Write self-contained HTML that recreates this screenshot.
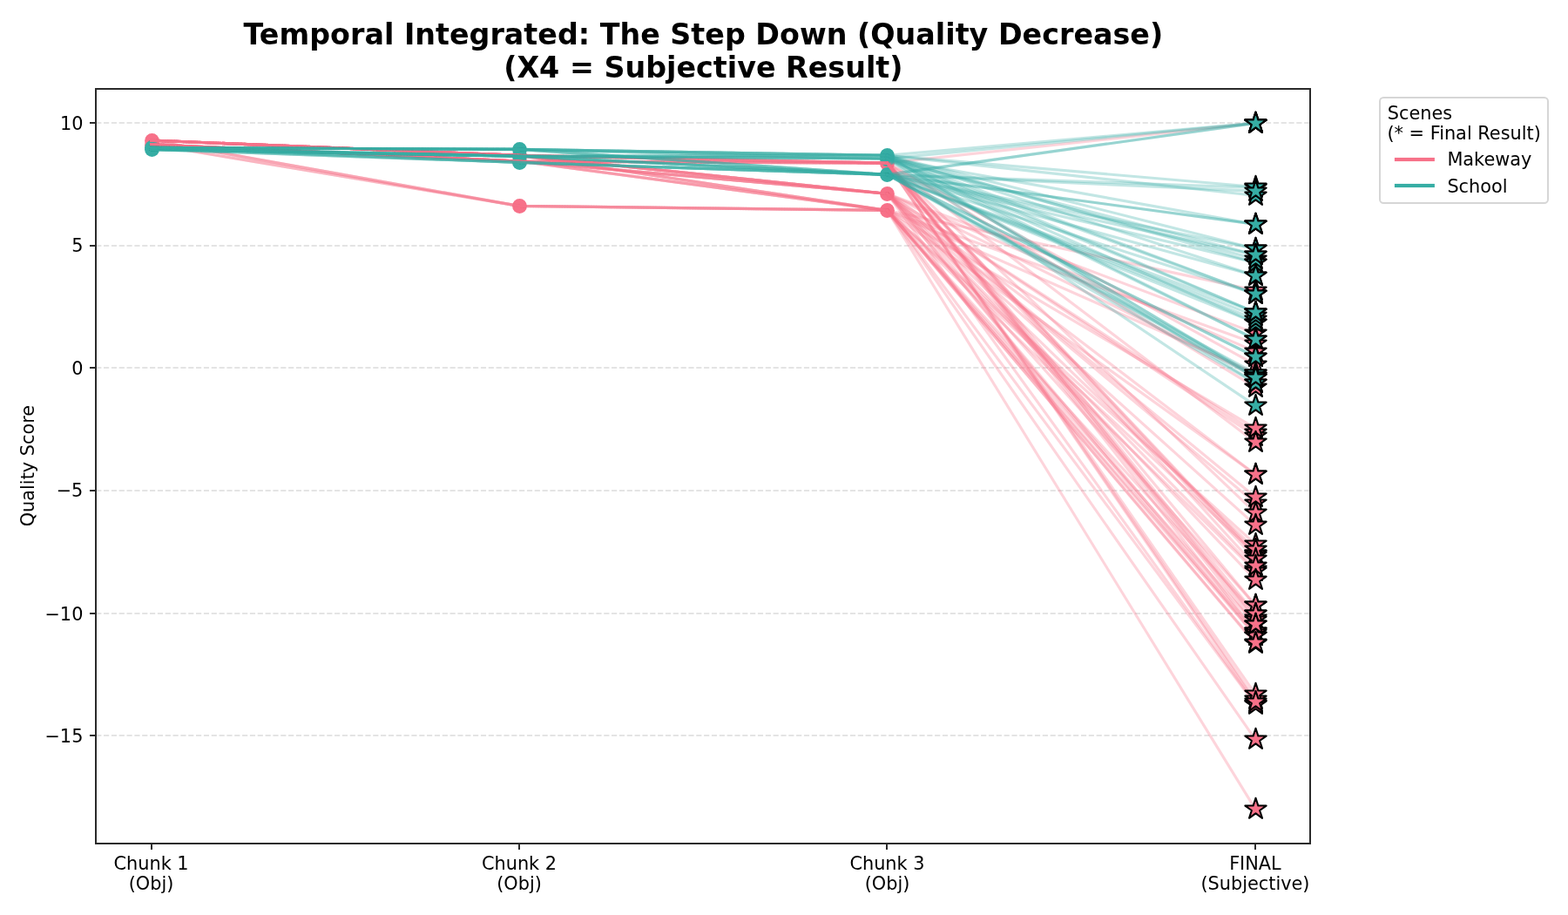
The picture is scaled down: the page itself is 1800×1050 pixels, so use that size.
<!DOCTYPE html>
<html lang="en"><head><meta charset="utf-8"><title>Temporal Integrated: The Step Down (Quality Decrease)</title>
<style>html,body{margin:0;padding:0;background:#fff;}body{width:1800px;height:1050px;overflow:hidden;}svg{display:block;}text{font-family:"DejaVu Sans","Liberation Sans",sans-serif;fill:#000;}.t10{font-size:20.833px;}.ttl{font-size:33.333px;font-weight:bold;}</style></head><body>
<svg width="1800" height="1050" viewBox="0 0 1800 1050">
<rect x="0" y="0" width="1800" height="1050" fill="#ffffff"/>
<g stroke="#e4e4e4" stroke-width="2" stroke-dasharray="6.167 2.667" fill="none">
<line x1="110.20" y1="141" x2="1504.30" y2="141"/>
<line x1="110.20" y1="282" x2="1504.30" y2="282"/>
<line x1="110.20" y1="422" x2="1504.30" y2="422"/>
<line x1="110.20" y1="563" x2="1504.30" y2="563"/>
<line x1="110.20" y1="704" x2="1504.30" y2="704"/>
<line x1="110.20" y1="844" x2="1504.30" y2="844"/>
</g>
<g fill="#f77189">
<circle cx="174.5" cy="166.5" r="8.40"/>
<circle cx="596.5" cy="185.5" r="8.40"/>
<circle cx="1018.5" cy="187.5" r="8.40"/>
<circle cx="596.5" cy="236.5" r="8.40"/>
<circle cx="1018.5" cy="241.5" r="8.40"/>
<circle cx="1018.5" cy="222.5" r="8.40"/>
<circle cx="174.5" cy="161.5" r="8.40"/>
<circle cx="596.5" cy="178.5" r="8.40"/>
</g>
<g fill="#36ada4">
<circle cx="174.5" cy="171.5" r="8.40"/>
<circle cx="596.5" cy="186.5" r="8.40"/>
<circle cx="1018.5" cy="200.5" r="8.40"/>
<circle cx="596.5" cy="179.5" r="8.40"/>
<circle cx="1018.5" cy="178.5" r="8.40"/>
<circle cx="174.5" cy="169.5" r="8.40"/>
<circle cx="596.5" cy="171.5" r="8.40"/>
<circle cx="1018.5" cy="182.5" r="8.40"/>
</g>
<g stroke="#f77189" stroke-width="3.125" fill="none" stroke-linecap="square" stroke-linejoin="round">
<polyline stroke-opacity="0.22" points="173.57,165.70 596.02,185.00 1018.48,187.10"/>
<line stroke-opacity="0.30" x1="1018.48" y1="187.10" x2="1440.93" y2="141.30"/>
<polyline stroke-opacity="0.22" points="173.57,165.70 596.02,236.40 1018.48,241.40"/>
<line stroke-opacity="0.30" x1="1018.48" y1="241.40" x2="1440.93" y2="333.30"/>
<polyline stroke-opacity="0.22" points="173.57,165.70 596.02,185.00 1018.48,222.30"/>
<line stroke-opacity="0.30" x1="1018.48" y1="222.30" x2="1440.93" y2="382.30"/>
<polyline stroke-opacity="0.22" points="173.57,161.10 596.02,236.40 1018.48,241.40"/>
<line stroke-opacity="0.30" x1="1018.48" y1="241.40" x2="1440.93" y2="394.30"/>
<polyline stroke-opacity="0.22" points="173.57,161.10 596.02,178.40 1018.48,222.30"/>
<line stroke-opacity="0.30" x1="1018.48" y1="222.30" x2="1440.93" y2="403.30"/>
<polyline stroke-opacity="0.22" points="173.57,165.70 596.02,185.00 1018.48,187.10"/>
<line stroke-opacity="0.30" x1="1018.48" y1="187.10" x2="1440.93" y2="418.30"/>
<polyline stroke-opacity="0.22" points="173.57,165.70 596.02,236.40 1018.48,241.40"/>
<line stroke-opacity="0.30" x1="1018.48" y1="241.40" x2="1440.93" y2="428.30"/>
<polyline stroke-opacity="0.22" points="173.57,161.10 596.02,178.40 1018.48,222.30"/>
<line stroke-opacity="0.30" x1="1018.48" y1="222.30" x2="1440.93" y2="431.30"/>
<polyline stroke-opacity="0.22" points="173.57,165.70 596.02,185.00 1018.48,187.10"/>
<line stroke-opacity="0.30" x1="1018.48" y1="187.10" x2="1440.93" y2="444.30"/>
<polyline stroke-opacity="0.22" points="173.57,165.70 596.02,185.00 1018.48,222.30"/>
<line stroke-opacity="0.30" x1="1018.48" y1="222.30" x2="1440.93" y2="496.30"/>
<polyline stroke-opacity="0.22" points="173.57,165.70 596.02,185.00 1018.48,222.30"/>
<line stroke-opacity="0.30" x1="1018.48" y1="222.30" x2="1440.93" y2="500.30"/>
<polyline stroke-opacity="0.22" points="173.57,165.70 596.02,185.00 1018.48,241.40"/>
<line stroke-opacity="0.30" x1="1018.48" y1="241.40" x2="1440.93" y2="491.30"/>
<polyline stroke-opacity="0.22" points="173.57,165.70 596.02,185.00 1018.48,187.10"/>
<line stroke-opacity="0.30" x1="1018.48" y1="187.10" x2="1440.93" y2="507.30"/>
<polyline stroke-opacity="0.22" points="173.57,161.10 596.02,178.40 1018.48,222.30"/>
<line stroke-opacity="0.30" x1="1018.48" y1="222.30" x2="1440.93" y2="544.30"/>
<polyline stroke-opacity="0.22" points="173.57,161.10 596.02,236.40 1018.48,241.40"/>
<line stroke-opacity="0.30" x1="1018.48" y1="241.40" x2="1440.93" y2="544.30"/>
<polyline stroke-opacity="0.22" points="173.57,161.10 596.02,178.40 1018.48,222.30"/>
<line stroke-opacity="0.30" x1="1018.48" y1="222.30" x2="1440.93" y2="577.30"/>
<polyline stroke-opacity="0.22" points="173.57,161.10 596.02,178.40 1018.48,222.30"/>
<line stroke-opacity="0.30" x1="1018.48" y1="222.30" x2="1440.93" y2="570.30"/>
<polyline stroke-opacity="0.22" points="173.57,161.10 596.02,178.40 1018.48,187.10"/>
<line stroke-opacity="0.30" x1="1018.48" y1="187.10" x2="1440.93" y2="588.30"/>
<polyline stroke-opacity="0.22" points="173.57,165.70 596.02,185.00 1018.48,222.30"/>
<line stroke-opacity="0.30" x1="1018.48" y1="222.30" x2="1440.93" y2="602.30"/>
<polyline stroke-opacity="0.22" points="173.57,161.10 596.02,178.40 1018.48,187.10"/>
<line stroke-opacity="0.30" x1="1018.48" y1="187.10" x2="1440.93" y2="635.30"/>
<polyline stroke-opacity="0.22" points="173.57,165.70 596.02,185.00 1018.48,241.40"/>
<line stroke-opacity="0.30" x1="1018.48" y1="241.40" x2="1440.93" y2="635.30"/>
<polyline stroke-opacity="0.22" points="173.57,165.70 596.02,185.00 1018.48,187.10"/>
<line stroke-opacity="0.30" x1="1018.48" y1="187.10" x2="1440.93" y2="637.30"/>
<polyline stroke-opacity="0.22" points="173.57,161.10 596.02,178.40 1018.48,241.40"/>
<line stroke-opacity="0.30" x1="1018.48" y1="241.40" x2="1440.93" y2="624.30"/>
<polyline stroke-opacity="0.22" points="173.57,165.70 596.02,185.00 1018.48,222.30"/>
<line stroke-opacity="0.30" x1="1018.48" y1="222.30" x2="1440.93" y2="630.30"/>
<polyline stroke-opacity="0.22" points="173.57,161.10 596.02,178.40 1018.48,187.10"/>
<line stroke-opacity="0.30" x1="1018.48" y1="187.10" x2="1440.93" y2="641.30"/>
<polyline stroke-opacity="0.22" points="173.57,165.70 596.02,185.00 1018.48,222.30"/>
<line stroke-opacity="0.30" x1="1018.48" y1="222.30" x2="1440.93" y2="653.30"/>
<polyline stroke-opacity="0.22" points="173.57,161.10 596.02,236.40 1018.48,241.40"/>
<line stroke-opacity="0.30" x1="1018.48" y1="241.40" x2="1440.93" y2="655.30"/>
<polyline stroke-opacity="0.22" points="173.57,161.10 596.02,178.40 1018.48,187.10"/>
<line stroke-opacity="0.30" x1="1018.48" y1="187.10" x2="1440.93" y2="649.30"/>
<polyline stroke-opacity="0.22" points="173.57,161.10 596.02,178.40 1018.48,222.30"/>
<line stroke-opacity="0.30" x1="1018.48" y1="222.30" x2="1440.93" y2="665.30"/>
<polyline stroke-opacity="0.22" points="173.57,165.70 596.02,185.00 1018.48,187.10"/>
<line stroke-opacity="0.30" x1="1018.48" y1="187.10" x2="1440.93" y2="709.30"/>
<polyline stroke-opacity="0.22" points="173.57,161.10 596.02,178.40 1018.48,187.10"/>
<line stroke-opacity="0.30" x1="1018.48" y1="187.10" x2="1440.93" y2="711.30"/>
<polyline stroke-opacity="0.22" points="173.57,161.10 596.02,178.40 1018.48,187.10"/>
<line stroke-opacity="0.30" x1="1018.48" y1="187.10" x2="1440.93" y2="694.30"/>
<polyline stroke-opacity="0.22" points="173.57,165.70 596.02,185.00 1018.48,222.30"/>
<line stroke-opacity="0.30" x1="1018.48" y1="222.30" x2="1440.93" y2="694.30"/>
<polyline stroke-opacity="0.22" points="173.57,161.10 596.02,178.40 1018.48,187.10"/>
<line stroke-opacity="0.30" x1="1018.48" y1="187.10" x2="1440.93" y2="704.30"/>
<polyline stroke-opacity="0.22" points="173.57,161.10 596.02,178.40 1018.48,241.40"/>
<line stroke-opacity="0.30" x1="1018.48" y1="241.40" x2="1440.93" y2="704.30"/>
<polyline stroke-opacity="0.22" points="173.57,165.70 596.02,185.00 1018.48,187.10"/>
<line stroke-opacity="0.30" x1="1018.48" y1="187.10" x2="1440.93" y2="724.30"/>
<polyline stroke-opacity="0.22" points="173.57,161.10 596.02,178.40 1018.48,222.30"/>
<line stroke-opacity="0.30" x1="1018.48" y1="222.30" x2="1440.93" y2="724.30"/>
<polyline stroke-opacity="0.22" points="173.57,161.10 596.02,178.40 1018.48,241.40"/>
<line stroke-opacity="0.30" x1="1018.48" y1="241.40" x2="1440.93" y2="726.30"/>
<polyline stroke-opacity="0.22" points="173.57,161.10 596.02,178.40 1018.48,222.30"/>
<line stroke-opacity="0.30" x1="1018.48" y1="222.30" x2="1440.93" y2="729.30"/>
<polyline stroke-opacity="0.22" points="173.57,165.70 596.02,185.00 1018.48,241.40"/>
<line stroke-opacity="0.30" x1="1018.48" y1="241.40" x2="1440.93" y2="729.30"/>
<polyline stroke-opacity="0.22" points="173.57,161.10 596.02,178.40 1018.48,187.10"/>
<line stroke-opacity="0.30" x1="1018.48" y1="187.10" x2="1440.93" y2="716.30"/>
<polyline stroke-opacity="0.22" points="173.57,165.70 596.02,185.00 1018.48,241.40"/>
<line stroke-opacity="0.30" x1="1018.48" y1="241.40" x2="1440.93" y2="716.30"/>
<polyline stroke-opacity="0.22" points="173.57,165.70 596.02,236.40 1018.48,241.40"/>
<line stroke-opacity="0.30" x1="1018.48" y1="241.40" x2="1440.93" y2="738.30"/>
<polyline stroke-opacity="0.22" points="173.57,161.10 596.02,236.40 1018.48,241.40"/>
<line stroke-opacity="0.30" x1="1018.48" y1="241.40" x2="1440.93" y2="737.30"/>
<polyline stroke-opacity="0.22" points="173.57,161.10 596.02,178.40 1018.48,187.10"/>
<line stroke-opacity="0.30" x1="1018.48" y1="187.10" x2="1440.93" y2="802.30"/>
<polyline stroke-opacity="0.22" points="173.57,161.10 596.02,178.40 1018.48,222.30"/>
<line stroke-opacity="0.30" x1="1018.48" y1="222.30" x2="1440.93" y2="807.30"/>
<polyline stroke-opacity="0.22" points="173.57,161.10 596.02,178.40 1018.48,241.40"/>
<line stroke-opacity="0.30" x1="1018.48" y1="241.40" x2="1440.93" y2="808.30"/>
<polyline stroke-opacity="0.22" points="173.57,165.70 596.02,185.00 1018.48,187.10"/>
<line stroke-opacity="0.30" x1="1018.48" y1="187.10" x2="1440.93" y2="796.30"/>
<polyline stroke-opacity="0.22" points="173.57,161.10 596.02,178.40 1018.48,187.10"/>
<line stroke-opacity="0.30" x1="1018.48" y1="187.10" x2="1440.93" y2="805.30"/>
<polyline stroke-opacity="0.22" points="173.57,161.10 596.02,178.40 1018.48,241.40"/>
<line stroke-opacity="0.30" x1="1018.48" y1="241.40" x2="1440.93" y2="848.30"/>
<polyline stroke-opacity="0.22" points="173.57,165.70 596.02,185.00 1018.48,241.40"/>
<line stroke-opacity="0.30" x1="1018.48" y1="241.40" x2="1440.93" y2="928.30"/>
</g>
<g stroke="#36ada4" stroke-width="3.125" fill="none" stroke-linecap="square" stroke-linejoin="round">
<polyline stroke-opacity="0.22" points="173.57,171.40 596.02,186.40 1018.48,200.40"/>
<line stroke-opacity="0.30" x1="1018.48" y1="200.40" x2="1440.93" y2="215.30"/>
<polyline stroke-opacity="0.22" points="173.57,171.40 596.02,179.20 1018.48,178.30"/>
<line stroke-opacity="0.30" x1="1018.48" y1="178.30" x2="1440.93" y2="301.30"/>
<polyline stroke-opacity="0.22" points="173.57,169.40 596.02,171.40 1018.48,200.40"/>
<line stroke-opacity="0.30" x1="1018.48" y1="200.40" x2="1440.93" y2="301.30"/>
<polyline stroke-opacity="0.22" points="173.57,169.40 596.02,171.40 1018.48,178.30"/>
<line stroke-opacity="0.30" x1="1018.48" y1="178.30" x2="1440.93" y2="214.30"/>
<polyline stroke-opacity="0.22" points="173.57,169.40 596.02,171.40 1018.48,182.00"/>
<line stroke-opacity="0.30" x1="1018.48" y1="182.00" x2="1440.93" y2="297.30"/>
<polyline stroke-opacity="0.22" points="173.57,169.40 596.02,171.40 1018.48,178.30"/>
<line stroke-opacity="0.30" x1="1018.48" y1="178.30" x2="1440.93" y2="224.30"/>
<polyline stroke-opacity="0.22" points="173.57,169.40 596.02,171.40 1018.48,178.30"/>
<line stroke-opacity="0.30" x1="1018.48" y1="178.30" x2="1440.93" y2="285.30"/>
<polyline stroke-opacity="0.22" points="173.57,171.40 596.02,186.40 1018.48,200.40"/>
<line stroke-opacity="0.30" x1="1018.48" y1="200.40" x2="1440.93" y2="285.30"/>
<polyline stroke-opacity="0.22" points="173.57,169.40 596.02,186.40 1018.48,200.40"/>
<line stroke-opacity="0.30" x1="1018.48" y1="200.40" x2="1440.93" y2="219.30"/>
<polyline stroke-opacity="0.22" points="173.57,171.40 596.02,179.20 1018.48,182.00"/>
<line stroke-opacity="0.30" x1="1018.48" y1="182.00" x2="1440.93" y2="370.30"/>
<polyline stroke-opacity="0.22" points="173.57,169.40 596.02,171.40 1018.48,200.40"/>
<line stroke-opacity="0.30" x1="1018.48" y1="200.40" x2="1440.93" y2="370.30"/>
<polyline stroke-opacity="0.22" points="173.57,171.40 596.02,179.20 1018.48,178.30"/>
<line stroke-opacity="0.30" x1="1018.48" y1="178.30" x2="1440.93" y2="141.30"/>
<polyline stroke-opacity="0.22" points="173.57,169.40 596.02,179.20 1018.48,182.00"/>
<line stroke-opacity="0.30" x1="1018.48" y1="182.00" x2="1440.93" y2="141.30"/>
<polyline stroke-opacity="0.22" points="173.57,169.40 596.02,186.40 1018.48,200.40"/>
<line stroke-opacity="0.30" x1="1018.48" y1="200.40" x2="1440.93" y2="141.30"/>
<polyline stroke-opacity="0.22" points="173.57,171.40 596.02,179.20 1018.48,200.40"/>
<line stroke-opacity="0.30" x1="1018.48" y1="200.40" x2="1440.93" y2="141.30"/>
<polyline stroke-opacity="0.22" points="173.57,171.40 596.02,179.20 1018.48,182.00"/>
<line stroke-opacity="0.30" x1="1018.48" y1="182.00" x2="1440.93" y2="257.30"/>
<polyline stroke-opacity="0.22" points="173.57,169.40 596.02,171.40 1018.48,200.40"/>
<line stroke-opacity="0.30" x1="1018.48" y1="200.40" x2="1440.93" y2="257.30"/>
<polyline stroke-opacity="0.22" points="173.57,169.40 596.02,179.20 1018.48,200.40"/>
<line stroke-opacity="0.30" x1="1018.48" y1="200.40" x2="1440.93" y2="257.30"/>
<polyline stroke-opacity="0.22" points="173.57,169.40 596.02,171.40 1018.48,200.40"/>
<line stroke-opacity="0.30" x1="1018.48" y1="200.40" x2="1440.93" y2="366.30"/>
<polyline stroke-opacity="0.22" points="173.57,171.40 596.02,179.20 1018.48,200.40"/>
<line stroke-opacity="0.30" x1="1018.48" y1="200.40" x2="1440.93" y2="428.30"/>
<polyline stroke-opacity="0.22" points="173.57,169.40 596.02,171.40 1018.48,182.00"/>
<line stroke-opacity="0.30" x1="1018.48" y1="182.00" x2="1440.93" y2="292.30"/>
<polyline stroke-opacity="0.22" points="173.57,171.40 596.02,179.20 1018.48,200.40"/>
<line stroke-opacity="0.30" x1="1018.48" y1="200.40" x2="1440.93" y2="292.30"/>
<polyline stroke-opacity="0.22" points="173.57,171.40 596.02,179.20 1018.48,200.40"/>
<line stroke-opacity="0.30" x1="1018.48" y1="200.40" x2="1440.93" y2="362.30"/>
<polyline stroke-opacity="0.22" points="173.57,171.40 596.02,179.20 1018.48,182.00"/>
<line stroke-opacity="0.30" x1="1018.48" y1="182.00" x2="1440.93" y2="431.30"/>
<polyline stroke-opacity="0.22" points="173.57,169.40 596.02,186.40 1018.48,200.40"/>
<line stroke-opacity="0.30" x1="1018.48" y1="200.40" x2="1440.93" y2="431.30"/>
<polyline stroke-opacity="0.22" points="173.57,169.40 596.02,171.40 1018.48,178.30"/>
<line stroke-opacity="0.30" x1="1018.48" y1="178.30" x2="1440.93" y2="316.30"/>
<polyline stroke-opacity="0.22" points="173.57,169.40 596.02,179.20 1018.48,200.40"/>
<line stroke-opacity="0.30" x1="1018.48" y1="200.40" x2="1440.93" y2="316.30"/>
<polyline stroke-opacity="0.22" points="173.57,171.40 596.02,179.20 1018.48,178.30"/>
<line stroke-opacity="0.30" x1="1018.48" y1="178.30" x2="1440.93" y2="439.30"/>
<polyline stroke-opacity="0.22" points="173.57,171.40 596.02,186.40 1018.48,200.40"/>
<line stroke-opacity="0.30" x1="1018.48" y1="200.40" x2="1440.93" y2="439.30"/>
<polyline stroke-opacity="0.22" points="173.57,171.40 596.02,179.20 1018.48,182.00"/>
<line stroke-opacity="0.30" x1="1018.48" y1="182.00" x2="1440.93" y2="337.30"/>
<polyline stroke-opacity="0.22" points="173.57,169.40 596.02,171.40 1018.48,178.30"/>
<line stroke-opacity="0.30" x1="1018.48" y1="178.30" x2="1440.93" y2="337.30"/>
<polyline stroke-opacity="0.22" points="173.57,169.40 596.02,171.40 1018.48,200.40"/>
<line stroke-opacity="0.30" x1="1018.48" y1="200.40" x2="1440.93" y2="337.30"/>
<polyline stroke-opacity="0.22" points="173.57,169.40 596.02,171.40 1018.48,178.30"/>
<line stroke-opacity="0.30" x1="1018.48" y1="178.30" x2="1440.93" y2="358.30"/>
<polyline stroke-opacity="0.22" points="173.57,169.40 596.02,179.20 1018.48,182.00"/>
<line stroke-opacity="0.30" x1="1018.48" y1="182.00" x2="1440.93" y2="358.30"/>
<polyline stroke-opacity="0.22" points="173.57,169.40 596.02,186.40 1018.48,200.40"/>
<line stroke-opacity="0.30" x1="1018.48" y1="200.40" x2="1440.93" y2="358.30"/>
<polyline stroke-opacity="0.22" points="173.57,171.40 596.02,179.20 1018.48,178.30"/>
<line stroke-opacity="0.30" x1="1018.48" y1="178.30" x2="1440.93" y2="389.30"/>
<polyline stroke-opacity="0.22" points="173.57,171.40 596.02,179.20 1018.48,182.00"/>
<line stroke-opacity="0.30" x1="1018.48" y1="182.00" x2="1440.93" y2="389.30"/>
<polyline stroke-opacity="0.22" points="173.57,169.40 596.02,179.20 1018.48,200.40"/>
<line stroke-opacity="0.30" x1="1018.48" y1="200.40" x2="1440.93" y2="409.30"/>
<polyline stroke-opacity="0.22" points="173.57,171.40 596.02,186.40 1018.48,200.40"/>
<line stroke-opacity="0.30" x1="1018.48" y1="200.40" x2="1440.93" y2="409.30"/>
<polyline stroke-opacity="0.22" points="173.57,169.40 596.02,171.40 1018.48,178.30"/>
<line stroke-opacity="0.30" x1="1018.48" y1="178.30" x2="1440.93" y2="433.30"/>
<polyline stroke-opacity="0.22" points="173.57,169.40 596.02,179.20 1018.48,200.40"/>
<line stroke-opacity="0.30" x1="1018.48" y1="200.40" x2="1440.93" y2="433.30"/>
<polyline stroke-opacity="0.22" points="173.57,169.40 596.02,171.40 1018.48,182.00"/>
<line stroke-opacity="0.30" x1="1018.48" y1="182.00" x2="1440.93" y2="465.30"/>
</g>
<g fill="#f77189" stroke="#000" stroke-width="2.08" stroke-linejoin="round">
<polygon points="1441.50,128.74 1438.64,137.56 1429.36,137.56 1436.86,143.01 1434.00,151.82 1441.50,146.37 1449.00,151.82 1446.14,143.01 1453.64,137.56 1444.36,137.56"/>
<polygon points="1441.50,320.74 1438.64,329.56 1429.36,329.56 1436.86,335.01 1434.00,343.82 1441.50,338.37 1449.00,343.82 1446.14,335.01 1453.64,329.56 1444.36,329.56"/>
<polygon points="1441.50,369.74 1438.64,378.56 1429.36,378.56 1436.86,384.01 1434.00,392.82 1441.50,387.37 1449.00,392.82 1446.14,384.01 1453.64,378.56 1444.36,378.56"/>
<polygon points="1441.50,381.74 1438.64,390.56 1429.36,390.56 1436.86,396.01 1434.00,404.82 1441.50,399.37 1449.00,404.82 1446.14,396.01 1453.64,390.56 1444.36,390.56"/>
<polygon points="1441.50,390.74 1438.64,399.56 1429.36,399.56 1436.86,405.01 1434.00,413.82 1441.50,408.37 1449.00,413.82 1446.14,405.01 1453.64,399.56 1444.36,399.56"/>
<polygon points="1441.50,405.74 1438.64,414.56 1429.36,414.56 1436.86,420.01 1434.00,428.82 1441.50,423.37 1449.00,428.82 1446.14,420.01 1453.64,414.56 1444.36,414.56"/>
<polygon points="1441.50,415.74 1438.64,424.56 1429.36,424.56 1436.86,430.01 1434.00,438.82 1441.50,433.37 1449.00,438.82 1446.14,430.01 1453.64,424.56 1444.36,424.56"/>
<polygon points="1441.50,418.74 1438.64,427.56 1429.36,427.56 1436.86,433.01 1434.00,441.82 1441.50,436.37 1449.00,441.82 1446.14,433.01 1453.64,427.56 1444.36,427.56"/>
<polygon points="1441.50,431.74 1438.64,440.56 1429.36,440.56 1436.86,446.01 1434.00,454.82 1441.50,449.37 1449.00,454.82 1446.14,446.01 1453.64,440.56 1444.36,440.56"/>
<polygon points="1441.50,483.74 1438.64,492.56 1429.36,492.56 1436.86,498.01 1434.00,506.82 1441.50,501.37 1449.00,506.82 1446.14,498.01 1453.64,492.56 1444.36,492.56"/>
<polygon points="1441.50,487.74 1438.64,496.56 1429.36,496.56 1436.86,502.01 1434.00,510.82 1441.50,505.37 1449.00,510.82 1446.14,502.01 1453.64,496.56 1444.36,496.56"/>
<polygon points="1441.50,478.74 1438.64,487.56 1429.36,487.56 1436.86,493.01 1434.00,501.82 1441.50,496.37 1449.00,501.82 1446.14,493.01 1453.64,487.56 1444.36,487.56"/>
<polygon points="1441.50,494.74 1438.64,503.56 1429.36,503.56 1436.86,509.01 1434.00,517.82 1441.50,512.37 1449.00,517.82 1446.14,509.01 1453.64,503.56 1444.36,503.56"/>
<polygon points="1441.50,531.74 1438.64,540.56 1429.36,540.56 1436.86,546.01 1434.00,554.82 1441.50,549.37 1449.00,554.82 1446.14,546.01 1453.64,540.56 1444.36,540.56"/>
<polygon points="1441.50,531.74 1438.64,540.56 1429.36,540.56 1436.86,546.01 1434.00,554.82 1441.50,549.37 1449.00,554.82 1446.14,546.01 1453.64,540.56 1444.36,540.56"/>
<polygon points="1441.50,564.74 1438.64,573.56 1429.36,573.56 1436.86,579.01 1434.00,587.82 1441.50,582.37 1449.00,587.82 1446.14,579.01 1453.64,573.56 1444.36,573.56"/>
<polygon points="1441.50,557.74 1438.64,566.56 1429.36,566.56 1436.86,572.01 1434.00,580.82 1441.50,575.37 1449.00,580.82 1446.14,572.01 1453.64,566.56 1444.36,566.56"/>
<polygon points="1441.50,575.74 1438.64,584.56 1429.36,584.56 1436.86,590.01 1434.00,598.82 1441.50,593.37 1449.00,598.82 1446.14,590.01 1453.64,584.56 1444.36,584.56"/>
<polygon points="1441.50,589.74 1438.64,598.56 1429.36,598.56 1436.86,604.01 1434.00,612.82 1441.50,607.37 1449.00,612.82 1446.14,604.01 1453.64,598.56 1444.36,598.56"/>
<polygon points="1441.50,622.74 1438.64,631.56 1429.36,631.56 1436.86,637.01 1434.00,645.82 1441.50,640.37 1449.00,645.82 1446.14,637.01 1453.64,631.56 1444.36,631.56"/>
<polygon points="1441.50,622.74 1438.64,631.56 1429.36,631.56 1436.86,637.01 1434.00,645.82 1441.50,640.37 1449.00,645.82 1446.14,637.01 1453.64,631.56 1444.36,631.56"/>
<polygon points="1441.50,624.74 1438.64,633.56 1429.36,633.56 1436.86,639.01 1434.00,647.82 1441.50,642.37 1449.00,647.82 1446.14,639.01 1453.64,633.56 1444.36,633.56"/>
<polygon points="1441.50,611.74 1438.64,620.56 1429.36,620.56 1436.86,626.01 1434.00,634.82 1441.50,629.37 1449.00,634.82 1446.14,626.01 1453.64,620.56 1444.36,620.56"/>
<polygon points="1441.50,617.74 1438.64,626.56 1429.36,626.56 1436.86,632.01 1434.00,640.82 1441.50,635.37 1449.00,640.82 1446.14,632.01 1453.64,626.56 1444.36,626.56"/>
<polygon points="1441.50,628.74 1438.64,637.56 1429.36,637.56 1436.86,643.01 1434.00,651.82 1441.50,646.37 1449.00,651.82 1446.14,643.01 1453.64,637.56 1444.36,637.56"/>
<polygon points="1441.50,640.74 1438.64,649.56 1429.36,649.56 1436.86,655.01 1434.00,663.82 1441.50,658.37 1449.00,663.82 1446.14,655.01 1453.64,649.56 1444.36,649.56"/>
<polygon points="1441.50,642.74 1438.64,651.56 1429.36,651.56 1436.86,657.01 1434.00,665.82 1441.50,660.37 1449.00,665.82 1446.14,657.01 1453.64,651.56 1444.36,651.56"/>
<polygon points="1441.50,636.74 1438.64,645.56 1429.36,645.56 1436.86,651.01 1434.00,659.82 1441.50,654.37 1449.00,659.82 1446.14,651.01 1453.64,645.56 1444.36,645.56"/>
<polygon points="1441.50,652.74 1438.64,661.56 1429.36,661.56 1436.86,667.01 1434.00,675.82 1441.50,670.37 1449.00,675.82 1446.14,667.01 1453.64,661.56 1444.36,661.56"/>
<polygon points="1441.50,696.74 1438.64,705.56 1429.36,705.56 1436.86,711.01 1434.00,719.82 1441.50,714.37 1449.00,719.82 1446.14,711.01 1453.64,705.56 1444.36,705.56"/>
<polygon points="1441.50,698.74 1438.64,707.56 1429.36,707.56 1436.86,713.01 1434.00,721.82 1441.50,716.37 1449.00,721.82 1446.14,713.01 1453.64,707.56 1444.36,707.56"/>
<polygon points="1441.50,681.74 1438.64,690.56 1429.36,690.56 1436.86,696.01 1434.00,704.82 1441.50,699.37 1449.00,704.82 1446.14,696.01 1453.64,690.56 1444.36,690.56"/>
<polygon points="1441.50,681.74 1438.64,690.56 1429.36,690.56 1436.86,696.01 1434.00,704.82 1441.50,699.37 1449.00,704.82 1446.14,696.01 1453.64,690.56 1444.36,690.56"/>
<polygon points="1441.50,691.74 1438.64,700.56 1429.36,700.56 1436.86,706.01 1434.00,714.82 1441.50,709.37 1449.00,714.82 1446.14,706.01 1453.64,700.56 1444.36,700.56"/>
<polygon points="1441.50,691.74 1438.64,700.56 1429.36,700.56 1436.86,706.01 1434.00,714.82 1441.50,709.37 1449.00,714.82 1446.14,706.01 1453.64,700.56 1444.36,700.56"/>
<polygon points="1441.50,711.74 1438.64,720.56 1429.36,720.56 1436.86,726.01 1434.00,734.82 1441.50,729.37 1449.00,734.82 1446.14,726.01 1453.64,720.56 1444.36,720.56"/>
<polygon points="1441.50,711.74 1438.64,720.56 1429.36,720.56 1436.86,726.01 1434.00,734.82 1441.50,729.37 1449.00,734.82 1446.14,726.01 1453.64,720.56 1444.36,720.56"/>
<polygon points="1441.50,713.74 1438.64,722.56 1429.36,722.56 1436.86,728.01 1434.00,736.82 1441.50,731.37 1449.00,736.82 1446.14,728.01 1453.64,722.56 1444.36,722.56"/>
<polygon points="1441.50,716.74 1438.64,725.56 1429.36,725.56 1436.86,731.01 1434.00,739.82 1441.50,734.37 1449.00,739.82 1446.14,731.01 1453.64,725.56 1444.36,725.56"/>
<polygon points="1441.50,716.74 1438.64,725.56 1429.36,725.56 1436.86,731.01 1434.00,739.82 1441.50,734.37 1449.00,739.82 1446.14,731.01 1453.64,725.56 1444.36,725.56"/>
<polygon points="1441.50,703.74 1438.64,712.56 1429.36,712.56 1436.86,718.01 1434.00,726.82 1441.50,721.37 1449.00,726.82 1446.14,718.01 1453.64,712.56 1444.36,712.56"/>
<polygon points="1441.50,703.74 1438.64,712.56 1429.36,712.56 1436.86,718.01 1434.00,726.82 1441.50,721.37 1449.00,726.82 1446.14,718.01 1453.64,712.56 1444.36,712.56"/>
<polygon points="1441.50,725.74 1438.64,734.56 1429.36,734.56 1436.86,740.01 1434.00,748.82 1441.50,743.37 1449.00,748.82 1446.14,740.01 1453.64,734.56 1444.36,734.56"/>
<polygon points="1441.50,724.74 1438.64,733.56 1429.36,733.56 1436.86,739.01 1434.00,747.82 1441.50,742.37 1449.00,747.82 1446.14,739.01 1453.64,733.56 1444.36,733.56"/>
<polygon points="1441.50,789.74 1438.64,798.56 1429.36,798.56 1436.86,804.01 1434.00,812.82 1441.50,807.37 1449.00,812.82 1446.14,804.01 1453.64,798.56 1444.36,798.56"/>
<polygon points="1441.50,794.74 1438.64,803.56 1429.36,803.56 1436.86,809.01 1434.00,817.82 1441.50,812.37 1449.00,817.82 1446.14,809.01 1453.64,803.56 1444.36,803.56"/>
<polygon points="1441.50,795.74 1438.64,804.56 1429.36,804.56 1436.86,810.01 1434.00,818.82 1441.50,813.37 1449.00,818.82 1446.14,810.01 1453.64,804.56 1444.36,804.56"/>
<polygon points="1441.50,783.74 1438.64,792.56 1429.36,792.56 1436.86,798.01 1434.00,806.82 1441.50,801.37 1449.00,806.82 1446.14,798.01 1453.64,792.56 1444.36,792.56"/>
<polygon points="1441.50,792.74 1438.64,801.56 1429.36,801.56 1436.86,807.01 1434.00,815.82 1441.50,810.37 1449.00,815.82 1446.14,807.01 1453.64,801.56 1444.36,801.56"/>
<polygon points="1441.50,835.74 1438.64,844.56 1429.36,844.56 1436.86,850.01 1434.00,858.82 1441.50,853.37 1449.00,858.82 1446.14,850.01 1453.64,844.56 1444.36,844.56"/>
<polygon points="1441.50,915.74 1438.64,924.56 1429.36,924.56 1436.86,930.01 1434.00,938.82 1441.50,933.37 1449.00,938.82 1446.14,930.01 1453.64,924.56 1444.36,924.56"/>
</g>
<g fill="#36ada4" stroke="#000" stroke-width="2.08" stroke-linejoin="round">
<polygon points="1441.50,202.74 1438.64,211.56 1429.36,211.56 1436.86,217.01 1434.00,225.82 1441.50,220.37 1449.00,225.82 1446.14,217.01 1453.64,211.56 1444.36,211.56"/>
<polygon points="1441.50,288.74 1438.64,297.56 1429.36,297.56 1436.86,303.01 1434.00,311.82 1441.50,306.37 1449.00,311.82 1446.14,303.01 1453.64,297.56 1444.36,297.56"/>
<polygon points="1441.50,288.74 1438.64,297.56 1429.36,297.56 1436.86,303.01 1434.00,311.82 1441.50,306.37 1449.00,311.82 1446.14,303.01 1453.64,297.56 1444.36,297.56"/>
<polygon points="1441.50,201.74 1438.64,210.56 1429.36,210.56 1436.86,216.01 1434.00,224.82 1441.50,219.37 1449.00,224.82 1446.14,216.01 1453.64,210.56 1444.36,210.56"/>
<polygon points="1441.50,284.74 1438.64,293.56 1429.36,293.56 1436.86,299.01 1434.00,307.82 1441.50,302.37 1449.00,307.82 1446.14,299.01 1453.64,293.56 1444.36,293.56"/>
<polygon points="1441.50,211.74 1438.64,220.56 1429.36,220.56 1436.86,226.01 1434.00,234.82 1441.50,229.37 1449.00,234.82 1446.14,226.01 1453.64,220.56 1444.36,220.56"/>
<polygon points="1441.50,272.74 1438.64,281.56 1429.36,281.56 1436.86,287.01 1434.00,295.82 1441.50,290.37 1449.00,295.82 1446.14,287.01 1453.64,281.56 1444.36,281.56"/>
<polygon points="1441.50,272.74 1438.64,281.56 1429.36,281.56 1436.86,287.01 1434.00,295.82 1441.50,290.37 1449.00,295.82 1446.14,287.01 1453.64,281.56 1444.36,281.56"/>
<polygon points="1441.50,206.74 1438.64,215.56 1429.36,215.56 1436.86,221.01 1434.00,229.82 1441.50,224.37 1449.00,229.82 1446.14,221.01 1453.64,215.56 1444.36,215.56"/>
<polygon points="1441.50,357.74 1438.64,366.56 1429.36,366.56 1436.86,372.01 1434.00,380.82 1441.50,375.37 1449.00,380.82 1446.14,372.01 1453.64,366.56 1444.36,366.56"/>
<polygon points="1441.50,357.74 1438.64,366.56 1429.36,366.56 1436.86,372.01 1434.00,380.82 1441.50,375.37 1449.00,380.82 1446.14,372.01 1453.64,366.56 1444.36,366.56"/>
<polygon points="1441.50,128.74 1438.64,137.56 1429.36,137.56 1436.86,143.01 1434.00,151.82 1441.50,146.37 1449.00,151.82 1446.14,143.01 1453.64,137.56 1444.36,137.56"/>
<polygon points="1441.50,128.74 1438.64,137.56 1429.36,137.56 1436.86,143.01 1434.00,151.82 1441.50,146.37 1449.00,151.82 1446.14,143.01 1453.64,137.56 1444.36,137.56"/>
<polygon points="1441.50,128.74 1438.64,137.56 1429.36,137.56 1436.86,143.01 1434.00,151.82 1441.50,146.37 1449.00,151.82 1446.14,143.01 1453.64,137.56 1444.36,137.56"/>
<polygon points="1441.50,128.74 1438.64,137.56 1429.36,137.56 1436.86,143.01 1434.00,151.82 1441.50,146.37 1449.00,151.82 1446.14,143.01 1453.64,137.56 1444.36,137.56"/>
<polygon points="1441.50,244.74 1438.64,253.56 1429.36,253.56 1436.86,259.01 1434.00,267.82 1441.50,262.37 1449.00,267.82 1446.14,259.01 1453.64,253.56 1444.36,253.56"/>
<polygon points="1441.50,244.74 1438.64,253.56 1429.36,253.56 1436.86,259.01 1434.00,267.82 1441.50,262.37 1449.00,267.82 1446.14,259.01 1453.64,253.56 1444.36,253.56"/>
<polygon points="1441.50,244.74 1438.64,253.56 1429.36,253.56 1436.86,259.01 1434.00,267.82 1441.50,262.37 1449.00,267.82 1446.14,259.01 1453.64,253.56 1444.36,253.56"/>
<polygon points="1441.50,353.74 1438.64,362.56 1429.36,362.56 1436.86,368.01 1434.00,376.82 1441.50,371.37 1449.00,376.82 1446.14,368.01 1453.64,362.56 1444.36,362.56"/>
<polygon points="1441.50,415.74 1438.64,424.56 1429.36,424.56 1436.86,430.01 1434.00,438.82 1441.50,433.37 1449.00,438.82 1446.14,430.01 1453.64,424.56 1444.36,424.56"/>
<polygon points="1441.50,279.74 1438.64,288.56 1429.36,288.56 1436.86,294.01 1434.00,302.82 1441.50,297.37 1449.00,302.82 1446.14,294.01 1453.64,288.56 1444.36,288.56"/>
<polygon points="1441.50,279.74 1438.64,288.56 1429.36,288.56 1436.86,294.01 1434.00,302.82 1441.50,297.37 1449.00,302.82 1446.14,294.01 1453.64,288.56 1444.36,288.56"/>
<polygon points="1441.50,349.74 1438.64,358.56 1429.36,358.56 1436.86,364.01 1434.00,372.82 1441.50,367.37 1449.00,372.82 1446.14,364.01 1453.64,358.56 1444.36,358.56"/>
<polygon points="1441.50,418.74 1438.64,427.56 1429.36,427.56 1436.86,433.01 1434.00,441.82 1441.50,436.37 1449.00,441.82 1446.14,433.01 1453.64,427.56 1444.36,427.56"/>
<polygon points="1441.50,418.74 1438.64,427.56 1429.36,427.56 1436.86,433.01 1434.00,441.82 1441.50,436.37 1449.00,441.82 1446.14,433.01 1453.64,427.56 1444.36,427.56"/>
<polygon points="1441.50,303.74 1438.64,312.56 1429.36,312.56 1436.86,318.01 1434.00,326.82 1441.50,321.37 1449.00,326.82 1446.14,318.01 1453.64,312.56 1444.36,312.56"/>
<polygon points="1441.50,303.74 1438.64,312.56 1429.36,312.56 1436.86,318.01 1434.00,326.82 1441.50,321.37 1449.00,326.82 1446.14,318.01 1453.64,312.56 1444.36,312.56"/>
<polygon points="1441.50,426.74 1438.64,435.56 1429.36,435.56 1436.86,441.01 1434.00,449.82 1441.50,444.37 1449.00,449.82 1446.14,441.01 1453.64,435.56 1444.36,435.56"/>
<polygon points="1441.50,426.74 1438.64,435.56 1429.36,435.56 1436.86,441.01 1434.00,449.82 1441.50,444.37 1449.00,449.82 1446.14,441.01 1453.64,435.56 1444.36,435.56"/>
<polygon points="1441.50,324.74 1438.64,333.56 1429.36,333.56 1436.86,339.01 1434.00,347.82 1441.50,342.37 1449.00,347.82 1446.14,339.01 1453.64,333.56 1444.36,333.56"/>
<polygon points="1441.50,324.74 1438.64,333.56 1429.36,333.56 1436.86,339.01 1434.00,347.82 1441.50,342.37 1449.00,347.82 1446.14,339.01 1453.64,333.56 1444.36,333.56"/>
<polygon points="1441.50,324.74 1438.64,333.56 1429.36,333.56 1436.86,339.01 1434.00,347.82 1441.50,342.37 1449.00,347.82 1446.14,339.01 1453.64,333.56 1444.36,333.56"/>
<polygon points="1441.50,345.74 1438.64,354.56 1429.36,354.56 1436.86,360.01 1434.00,368.82 1441.50,363.37 1449.00,368.82 1446.14,360.01 1453.64,354.56 1444.36,354.56"/>
<polygon points="1441.50,345.74 1438.64,354.56 1429.36,354.56 1436.86,360.01 1434.00,368.82 1441.50,363.37 1449.00,368.82 1446.14,360.01 1453.64,354.56 1444.36,354.56"/>
<polygon points="1441.50,345.74 1438.64,354.56 1429.36,354.56 1436.86,360.01 1434.00,368.82 1441.50,363.37 1449.00,368.82 1446.14,360.01 1453.64,354.56 1444.36,354.56"/>
<polygon points="1441.50,376.74 1438.64,385.56 1429.36,385.56 1436.86,391.01 1434.00,399.82 1441.50,394.37 1449.00,399.82 1446.14,391.01 1453.64,385.56 1444.36,385.56"/>
<polygon points="1441.50,376.74 1438.64,385.56 1429.36,385.56 1436.86,391.01 1434.00,399.82 1441.50,394.37 1449.00,399.82 1446.14,391.01 1453.64,385.56 1444.36,385.56"/>
<polygon points="1441.50,396.74 1438.64,405.56 1429.36,405.56 1436.86,411.01 1434.00,419.82 1441.50,414.37 1449.00,419.82 1446.14,411.01 1453.64,405.56 1444.36,405.56"/>
<polygon points="1441.50,396.74 1438.64,405.56 1429.36,405.56 1436.86,411.01 1434.00,419.82 1441.50,414.37 1449.00,419.82 1446.14,411.01 1453.64,405.56 1444.36,405.56"/>
<polygon points="1441.50,420.74 1438.64,429.56 1429.36,429.56 1436.86,435.01 1434.00,443.82 1441.50,438.37 1449.00,443.82 1446.14,435.01 1453.64,429.56 1444.36,429.56"/>
<polygon points="1441.50,420.74 1438.64,429.56 1429.36,429.56 1436.86,435.01 1434.00,443.82 1441.50,438.37 1449.00,443.82 1446.14,435.01 1453.64,429.56 1444.36,429.56"/>
<polygon points="1441.50,452.74 1438.64,461.56 1429.36,461.56 1436.86,467.01 1434.00,475.82 1441.50,470.37 1449.00,475.82 1446.14,467.01 1453.64,461.56 1444.36,461.56"/>
</g>
<g fill="#2a2a2a">
<rect x="109" y="101" width="1396" height="2"/>
<rect x="109" y="967" width="1396" height="2"/>
<rect x="109" y="101" width="2" height="868"/>
<rect x="1503" y="101" width="2" height="868"/>
<rect x="173" y="968" width="2" height="7"/>
<rect x="595" y="968" width="2" height="7"/>
<rect x="1017" y="968" width="2" height="7"/>
<rect x="1440" y="968" width="2" height="7"/>
<rect x="103" y="140" width="7" height="2"/>
<rect x="103" y="281" width="7" height="2"/>
<rect x="103" y="421" width="7" height="2"/>
<rect x="103" y="562" width="7" height="2"/>
<rect x="103" y="703" width="7" height="2"/>
<rect x="103" y="843" width="7" height="2"/>
</g>
<g class="t10" text-anchor="end">
<text x="95.4" y="149.00">10</text>
<text x="95.4" y="289.00">5</text>
<text x="95.4" y="430.00">0</text>
<text x="95.4" y="570.00">−5</text>
<text x="95.4" y="712.00">−10</text>
<text x="95.4" y="852.00">−15</text>
</g>
<g class="t10" text-anchor="middle">
<text x="173.57" y="998.00">Chunk 1</text>
<text x="173.57" y="1021.00">(Obj)</text>
<text x="596.02" y="998.00">Chunk 2</text>
<text x="596.02" y="1021.00">(Obj)</text>
<text x="1018.48" y="998.00">Chunk 3</text>
<text x="1018.48" y="1021.00">(Obj)</text>
<text x="1440.93" y="998.00">FINAL</text>
<text x="1440.93" y="1021.00">(Subjective)</text>
</g>
<text class="t10" text-anchor="middle" transform="translate(39.00,534.60) rotate(-90)">Quality Score</text>
<g class="ttl" text-anchor="middle">
<text x="807.36" y="51.00">Temporal Integrated: The Step Down (Quality Decrease)</text>
<text x="807.36" y="89.00">(X4 = Subjective Result)</text>
</g>
<rect x="1584" y="112" width="193" height="121" rx="4.2" ry="4.2" fill="#ffffff" fill-opacity="0.8" stroke="#d6d6d6" stroke-width="2"/>
<g class="t10">
<text x="1592.85" y="137.00">Scenes</text>
<text x="1592.45" y="160.00">(* = Final Result)</text>
<text x="1661.40" y="190.00">Makeway</text>
<text x="1661.40" y="221.00">School</text>
</g>
<rect x="1600.9" y="180.92" width="46" height="4.17" fill="#f77189"/>
<rect x="1600.9" y="210.92" width="46" height="4.17" fill="#36ada4"/>
</svg></body></html>
